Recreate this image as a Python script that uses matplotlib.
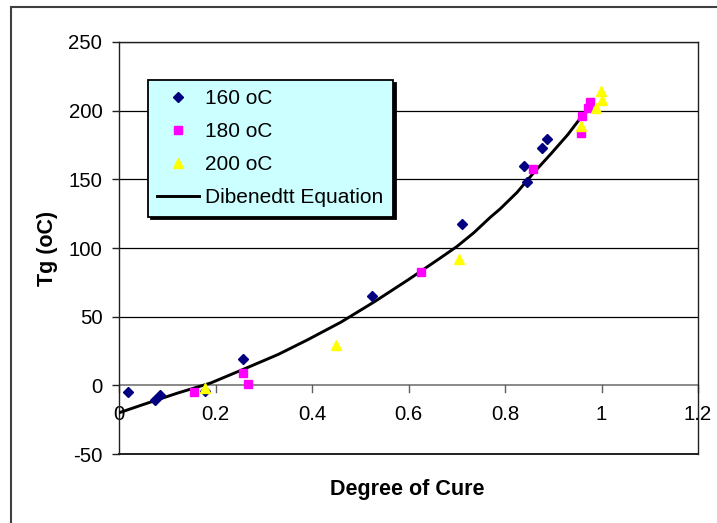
import matplotlib.pyplot as plt
from matplotlib.patches import Rectangle
from matplotlib.transforms import ScaledTranslation

# Tg vs degree of cure
deg_160 = [0.019, 0.075, 0.084, 0.178, 0.256, 0.524, 0.711, 0.839, 0.845, 0.877, 0.888]
tg_160 = [-4.5, -10.4, -7.0, -4.4, 19.2, 65.3, 117.8, 159.5, 148.1, 172.9, 179.4]

deg_180 = [0.156, 0.258, 0.268, 0.626, 0.857, 0.958, 0.960, 0.972, 0.976]
tg_180 = [-5.1, 9.0, 1.0, 82.6, 157.6, 183.8, 196.0, 202.0, 206.0]

deg_200 = [0.178, 0.449, 0.705, 0.958, 0.989, 1.0, 0.999]
tg_200 = [-1.9, 29.6, 92.3, 188.6, 202.0, 208.0, 214.0]

# Dibenedtt equation curve
deg_fit = [0, 0.05, 0.12, 0.19, 0.26, 0.33, 0.39, 0.46, 0.53, 0.60,
           0.665, 0.70, 0.735, 0.77, 0.79, 0.825, 0.86, 0.895, 0.93, 0.955]
tg_fit = [-20, -14, -5.8, 1.7, 12, 22.5, 33, 46, 61, 77,
          92.5, 101, 111, 122.5, 128.5, 140.5, 155, 168.5, 182.5, 194]

x_ticks = [0, 0.2, 0.4, 0.6, 0.8, 1, 1.2]
x_tick_labels = ['0', '0.2', '0.4', '0.6', '0.8', '1', '1.2']
y_ticks = [-50, 0, 50, 100, 150, 200, 250]

FONT = 'Liberation Sans'


def make_chart(output_file="out.png"):
    W, H = 717, 523
    plt.rcParams['font.family'] = [FONT, 'DejaVu Sans']
    plt.rcParams['axes.unicode_minus'] = False
    fig = plt.figure(figsize=(W / 100, H / 100), dpi=100)

    # outer chart border (only left/top visible in the crop)
    fig.patches.append(Rectangle((11 / W, -0.1), 1.2, 1.1 - 7 / H,
                                 transform=fig.transFigure, fill=False,
                                 edgecolor='#404040', linewidth=1.5))

    ax = fig.add_axes([119 / W, 1 - 454 / H, (698 - 119) / W, (454 - 42) / H])
    ax.set_xlim(0, 1.2)
    ax.set_ylim(-50, 250)

    # gridlines
    for y in y_ticks[2:]:
        ax.axhline(y, color='black', linewidth=0.9, zorder=1)
    ax.axhline(0, color='#808080', linewidth=1.3, zorder=1)

    ax.plot(deg_fit, tg_fit, color='black', linewidth=2.1, zorder=3,
            label='Dibenedtt Equation')
    ax.plot(deg_160, tg_160, linestyle='none', marker='D', markersize=5.3,
            color='#000080', zorder=4, label='160 oC')
    ax.plot(deg_180, tg_180, linestyle='none', marker='s', markersize=6.3,
            color='#FF00FF', zorder=4, label='180 oC')
    ax.plot(deg_200, tg_200, linestyle='none', marker='^', markersize=7.5,
            color='#FFFF00', zorder=4, label='200 oC')

    for side in ['top', 'right', 'left', 'bottom']:
        ax.spines[side].set_color('#202020')
        ax.spines[side].set_linewidth(1.0)
    ax.spines['bottom'].set_visible(False)
    ax.axhline(-50, color='#202020', linewidth=1.4, zorder=2, clip_on=False)

    # x axis sits at y = 0, labels hang below it
    ax.set_xticks(x_ticks)
    ax.set_xticklabels(x_tick_labels)
    ax.tick_params(axis='x', length=0, labelsize=14.7)
    for xt in x_ticks:
        ax.plot([xt, xt], [0, -4.5], color='#606060', linewidth=1.0,
                zorder=2, clip_on=False)
    for lab in ax.get_xticklabels():
        lab.set_transform(ax.transData + ScaledTranslation(0, -21 / 72, fig.dpi_scale_trans))
        lab.set_y(0)
        lab.set_verticalalignment('center')
    ax.set_yticks(y_ticks)
    ax.tick_params(axis='y', length=5, width=1.0, pad=7, labelsize=14.7,
                   color='#202020')

    fig.text(407 / W, 1 - 490 / H, 'Degree of Cure', ha='center', va='center',
             fontsize=15.5, fontweight='bold')
    fig.text(48 / W, 1 - 248 / H, 'Tg (oC)', ha='center', va='center',
             rotation=90, fontsize=15.5, fontweight='bold')

    handles, labels = ax.get_legend_handles_labels()
    order = [1, 2, 3, 0]
    leg = ax.legend([handles[i] for i in order], [labels[i] for i in order],
                    loc='upper left', bbox_to_anchor=(148 / W, 1 - 80 / H),
                    bbox_transform=fig.transFigure, borderaxespad=0,
                    fontsize=15, fancybox=False, shadow={'color': 'black', 'alpha': 1},
                    handlelength=2.0, handletextpad=0.3, labelspacing=0.67,
                    borderpad=0.45, framealpha=1)
    leg.get_frame().set_facecolor('#CCFFFF')
    leg.get_frame().set_edgecolor('black')
    leg.get_frame().set_linewidth(1.3)
    leg.set_zorder(5)

    plt.savefig(output_file, dpi=100)
    print(f"Chart saved to {output_file}")


def main():
    make_chart("out.png")


if __name__ == "__main__":
    main()
